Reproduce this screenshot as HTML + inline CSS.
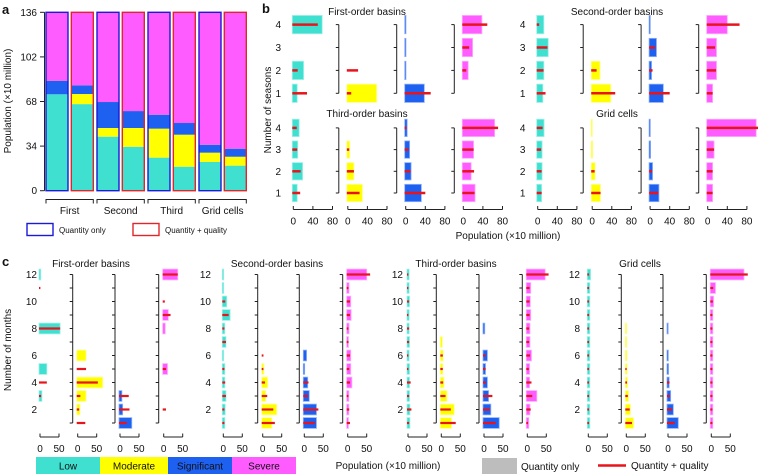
<!DOCTYPE html>
<html><head><meta charset="utf-8"><style>
html,body{margin:0;padding:0;background:#fff;}
svg{display:block;font-family:"Liberation Sans",Arial,sans-serif;}
</style></head><body>
<svg id="fig" width="758" height="474" viewBox="0 0 758 474" xmlns="http://www.w3.org/2000/svg"></svg>
<script>
// ---------- Panel a data (stack heights: low, moderate, significant; severe = remainder) ----------
const aCategories = ["First","First","Second","Second","Third","Third","Grid cells","Grid cells"];
const aType = ["qty","qq","qty","qq","qty","qq","qty","qq"];
const aLow = [73.5,66,41.2,33.5,25.2,18.3,21.9,19.1];
const aModerate = [0,7.7,6.6,14.3,22.1,24.4,7.1,6.8];
const aSignificant = [10.3,6.6,19.8,12.9,10.6,8.9,6,6.1];
const aTotal = 136;
const aTicks = [0,34,68,102,136];
const aGroups = ["First","Second","Third","Grid cells"];

// ---------- Panel b data (rows = seasons 1..4) ----------
const bRows = [1,2,3,4];
const bTicks = [0,40,80];
const bTitles = ["First-order basins","Second-order basins","Third-order basins","Grid cells"];
const bFirstQty = [[8,21,0,59],[59,0,0,0],[38,0.5,0.5,0.5],[0,10,19,38]];
const bFirstQQ = [[28,9,0,50],[7,21,0,0],[51,0,0,0],[0,6,12,49]];
const bSecondQty = [[10.5,12.5,21.5,12.5],[38,16,0,0],[27,3,13,0.5],[10,18,18,40]];
const bSecondQQ = [[16,12,20,3],[47,9,0,0],[40,5,10,0],[10,17,15,65]];
const bThirdQty = [[8,19,9,12],[30,12.5,4,0],[32,11,8,3],[24,16,21,64]];
const bThirdQQ = [[14,15,8,7],[24,12.5,3,0],[40,10,6,2],[23,22,21,71]];
const bGridQty = [[8,9,9,13],[17,6,1,0.5],[18,5,1,0.5],[10,10,13,99]];
const bGridQQ = [[8,8,7,10],[17,5,0,0],[17,4,0,0],[10,10,13,109]];

// ---------- Panel c data (rows = months 1..12) ----------
const cRows = [1,2,3,4,5,6,7,8,9,10,11,12];
const cTickLabels = [2,4,6,8,10,12];
const cTicks = [0,50];
const cTitles = ["First-order basins","Second-order basins","Third-order basins","Grid cells"];
const cFirstQty = [[0,0,5,0,18,0,0,53,0,0,0,2],[0,6,22,66,0,22,0,0,0,0,0,0],[31,7,5,0,0,0,0,0,0,0,0,0],[0,0,0,0,10,0,0,4,12,0,0,37]];
const cFirstQQ = [[0,0,3,18,0,0,0,53,0,0,1,0],[20,4,7,53,22,0,0,0,0,0,0,0],[18,25,23,0,0,0,0,0,0,0,0,0],[0,6,0,0,6,0,0,0,18,3,0,37]];
const cSecondQty = [[4,5,7,4,4,1,7,4,18,9,1,1],[24,37,8,13,3,0,0,0,0,0,0,0],[32,32,13,9,1,6,0,0,0,0,0,0],[2,3,3,11,8,8,2,3.5,9,8,3.5,50]];
const cSecondQQ = [[3,3,7,5,3,0,7,3,14,5,0,0],[32,28,12,6,2,2,0,0,0,0,0,0],[28,37,10,11,0,0,0,0,0,0,0,0],[6,4,2,6,4,6,2,2,6,6,2,59]];
const cThirdQty = [[5,5,4,4,4,3,4,3,3,4,3,3],[27,34,15,7,4,5,3,0,0,0,0,0],[40,18,12,9,4,9,0,2,0,0,0,0],[4,7,25,6,6,11,7,7,9,8,9,47]];
const cThirdQQ = [[3,9,3,7,1,1,3,3,1,3,1,1],[38,25,11,5,4,4,0,0,0,0,0,0],[31,15,22,5,4,4,0,0,0,0,0,0],[2,9,13,11,4,7,5,5,6,6,6,56]];
const cGridQty = [[4,4,4,4,4,4,4,4,4,4,4,6],[19,11,6,3,2,1.5,1,1,0,0,0,0],[27,14,7,3,1.5,1,0,0.5,0,0,0,0],[4,4,4,4,4,4,4,4,4,6,11,86]];
const cGridQQ = [[2,2,2,2,2,2,2,2,2,2,2,2],[15,9,4,2,1,0,0,0,0,0,0,0],[18,11,5,4,0,0,0,0,0,0,0,0],[3,3,3,3,3,3,3,3,3,4,5,96]];

const COLORS = ["#40e0d0","#ffff00","#1e60f0","#ff5cff"];
const LIGHT = ["#a0f0e8","#ffff9a","#8fb0f8","#ffaaff"];
const NAMES = ["low","moderate","significant","severe"];
const RED = "#e8141c";
const AX = "#222";

const svg = document.getElementById('fig');
const NS = "http://www.w3.org/2000/svg";
function mk(tag, attrs, parent){
  const e = document.createElementNS(NS, tag);
  for (const k in attrs) e.setAttribute(k, attrs[k]);
  (parent||svg).appendChild(e);
  return e;
}
function txt(s, x, y, size, anchor, parent, extra){
  const t = mk('text', Object.assign({x:x, y:y, 'font-size':size, 'text-anchor':anchor||'middle', fill:'#111'}, extra||{}), parent);
  t.textContent = s;
  return t;
}

// ---------- Panel labels ----------
let pl = txt("a", 2, 14, 13, 'start', svg, {'font-weight':'bold'});


pl = txt("b", 262, 13, 13, 'start', svg, {'font-weight':'bold'});


pl = txt("c", 2, 266, 13, 'start', svg, {'font-weight':'bold'});



// ---------- Panel a ----------
(function(){
  const g = mk('g', {});
  
  
  const y0 = 190.7, y1 = 12.3;
  const ys = v => y0 - (v / aTotal) * (y0 - y1);
  const barW = 22;
  const xs = i => 46 + Math.floor(i/2)*51 + (i%2)*25.3;
  mk('line', {x1:44.5, y1:ys(0), x2:44.5, y2:ys(aTotal), stroke:AX, 'stroke-width':1}, g);
  aTicks.forEach(t => {
    mk('line', {x1:40, y1:ys(t), x2:44.5, y2:ys(t), stroke:AX, 'stroke-width':1}, g);
    const l = txt(String(t), 37, ys(t)+3.5, 10, 'end', g);
    
    
  });
  const yt = txt("Population (×10 million)", 0, 0, 10, 'middle', g, {transform:'translate(11,101) rotate(-90)'});
  
  
  aCategories.forEach((c, i) => {
    const segs = [aLow[i], aModerate[i], aSignificant[i], aTotal - aLow[i] - aModerate[i] - aSignificant[i]];
    let acc = 0;
    segs.forEach((v, k) => {
      if (v <= 0) return;
      const r = mk('rect', {x:xs(i), y:ys(acc+v), width:barW, height:ys(acc)-ys(acc+v), fill:COLORS[k]}, g);
      
      
      acc += v;
    });
    const o = mk('rect', {x:xs(i), y:ys(aTotal), width:barW, height:ys(0)-ys(aTotal), fill:'none', stroke:aType[i]==='qty'?'#1a1ad8':'#e0262b', 'stroke-width':1.4}, g);
    
    
  });
  aGroups.forEach((gname, j) => {
    const xa = xs(j*2), xb = xs(j*2+1) + barW;
    mk('path', {d:`M${xa},203.5 V199.5 H${xb} V203.5`, fill:'none', stroke:AX, 'stroke-width':1}, g);
    const l = txt(gname, (xa+xb)/2, 214, 10, 'middle', g);
    
    
  });
  const lb = mk('rect', {x:27, y:223.5, width:26, height:12, fill:'#fff', stroke:'#1a1ad8', 'stroke-width':1.4});
  
  
  let lt = txt("Quantity only", 59, 233, 8, 'start');
  
  
  const lr = mk('rect', {x:133, y:223.5, width:26, height:12, fill:'#fff', stroke:'#e0262b', 'stroke-width':1.4});
  
  
  lt = txt("Quantity + quality", 165, 233, 8, 'start');
  
  
})();

// ---------- small multiples ----------
function drawGroup(o){
  const g = mk('g', {});
  
  
  const ys = r => o.yBottom - (r - 1) * o.step;
  const bh = o.step * o.barFrac;
  const t = txt(o.title, o.titleX, o.titleY, 10, 'middle', g);
  
  
  o.zeros.forEach((z, c) => {
    const xs = v => z + v * o.scale;
    const bx = z - o.axOff;
    if (c > 0) {
      mk('line', {x1:bx, y1:ys(o.rows[o.rows.length-1]), x2:bx, y2:ys(o.rows[0]), stroke:AX, 'stroke-width':1}, g);
      o.rows.forEach(r => {
        mk('line', {x1:bx-3, y1:ys(r), x2:bx, y2:ys(r), stroke:AX, 'stroke-width':1}, g);
      });
    } else {
      o.labels.forEach(r => {
        const l = txt(String(r), o.labelX, ys(r)+3.5, 10, 'end', g);
        
        
      });
    }
    o.rows.forEach((r, i) => {
      const v = o.qty[c][i];
      if (v > 0) {
        const b = mk('rect', {x:z-1, y:ys(r)-bh/2, width:Math.max(0.6, xs(v)-z+1), height:bh, fill:COLORS[c], stroke:LIGHT[c], 'stroke-width':0.8}, g);
        
        
      }
      const q = o.qq[c][i];
      if (q > 0) {
        const l = mk('line', {x1:z-1, y1:ys(r), x2:xs(q), y2:ys(r), stroke:RED, 'stroke-width':o.redW}, g);
        
        
      }
    });
    if (o.xAxisY) {
      const xa = xs(o.ticks[0]), xb = xs(o.ticks[o.ticks.length-1]);
      mk('line', {x1:xa, y1:o.xAxisY, x2:xb, y2:o.xAxisY, stroke:AX, 'stroke-width':1}, g);
      o.ticks.forEach(tk => {
        mk('line', {x1:xs(tk), y1:o.xAxisY, x2:xs(tk), y2:o.xAxisY-3.5, stroke:AX, 'stroke-width':1}, g);
        const l = txt(String(tk), xs(tk), o.xAxisY+15, 10, 'middle', g);
        
        
      });
    }
  });
}

// Panel b
const bGroupsQty = [bFirstQty, bSecondQty, bThirdQty, bGridQty];
const bGroupsQQ = [bFirstQQ, bSecondQQ, bThirdQQ, bGridQQ];
[0,1,2,3].forEach(k => {
  const top = k < 2;
  const off = (k % 2) * 244.4;
  drawGroup({
    name: 'panel-b-' + bTitles[k].toLowerCase().replace(/ /g,'-'),
    title: bTitles[k], titleX: (k%2 ? 617 : 367), titleY: top ? 15 : 117,
    rows: bRows, labels: bRows,
    yBottom: top ? 93.3 : 193, step: top ? 22.9 : 21.7, barFrac: 0.8,
    zeros: [293.3+off, 347.8+off, 405.7+off, 463.3+off],
    scale: 0.49, axOff: 9, labelX: 281 + off, redW: 2.5,
    qty: bGroupsQty[k], qq: bGroupsQQ[k],
    ticks: bTicks, xAxisY: top ? null : 209.5
  });
});
let bt = txt("Number of seasons", 0, 0, 10, 'middle', svg, {transform:'translate(271,110) rotate(-90)'});


bt = txt("Population (×10 million)", 508, 239, 10, 'middle');



// Panel c
const cGroupsQty = [cFirstQty, cSecondQty, cThirdQty, cGridQty];
const cGroupsQQ = [cFirstQQ, cSecondQQ, cThirdQQ, cGridQQ];
const cZeros = [[40,77.7,120,163.7],[223.3,262.7,304.3,347.7],[408,441.3,484,527.3],[588.3,626.3,668,711.3]];
const cLabelX = [37, 211, 403, 580];
const cTitleX = [91, 277, 456, 640];
[0,1,2,3].forEach(k => {
  drawGroup({
    name: 'panel-c-' + cTitles[k].toLowerCase().replace(/ /g,'-'),
    title: cTitles[k], titleX: cTitleX[k], titleY: 267,
    rows: cRows, labels: cTickLabels,
    yBottom: 423, step: 13.5, barFrac: 0.8,
    zeros: cZeros[k], scale: 0.38, axOff: 5, labelX: cLabelX[k], redW: 2.2,
    qty: cGroupsQty[k], qq: cGroupsQQ[k],
    ticks: cTicks, xAxisY: 437
  });
});
let ct = txt("Number of months", 0, 0, 10, 'middle', svg, {transform:'translate(11,350) rotate(-90)'});


ct = txt("Population (×10 million)", 388, 469, 10, 'middle');



// Color legend
const legLabels = ["Low","Moderate","Significant","Severe"];
const legX = [36, 100, 168, 232];
const legW = [64, 68, 64, 64];
legLabels.forEach((s, i) => {
  const r = mk('rect', {x:legX[i], y:457, width:legW[i], height:17, fill:COLORS[i]});
  
  
  const t = txt(s, legX[i] + legW[i]/2, 469.5, 10, 'middle');
  
  
});
let gr = mk('rect', {x:482, y:458, width:35, height:16, fill:'#bdbdbd'});


gr = txt("Quantity only", 521, 470, 10, 'start');


gr = mk('line', {x1:598, y1:465.5, x2:626, y2:465.5, stroke:RED, 'stroke-width':2.5});


gr = txt("Quantity + quality", 631, 469, 10, 'start');


</script>
</body></html>
